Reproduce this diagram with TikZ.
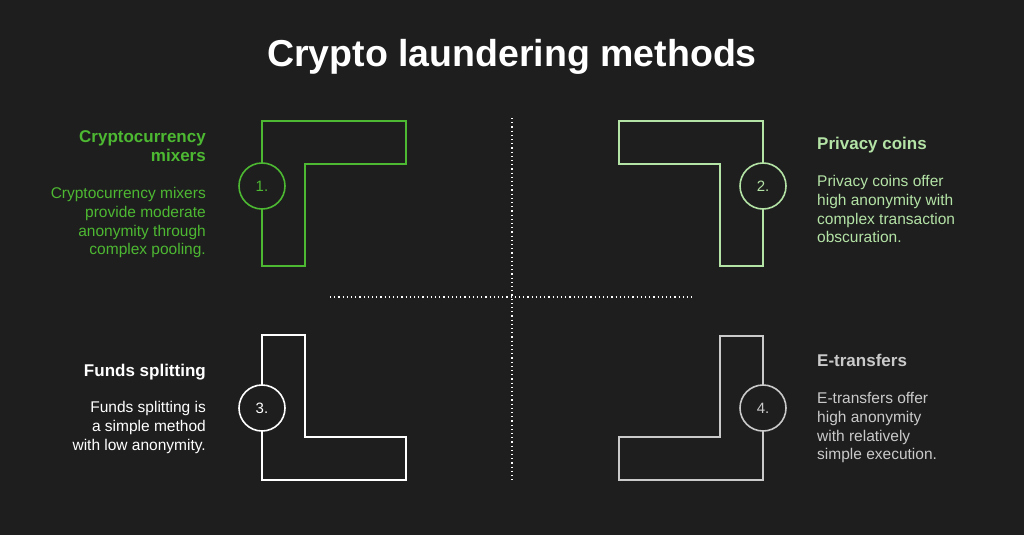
\documentclass[tikz,border=0pt]{standalone}
\usepackage{fontspec}
\setmainfont{Liberation Sans}
\definecolor{bg}{HTML}{1E1E1E}
\definecolor{gA}{HTML}{4DB832}
\definecolor{gB}{HTML}{B4E3A6}
\definecolor{gC}{HTML}{FFFFFF}
\definecolor{gD}{HTML}{CACACA}
\begin{document}
\begin{tikzpicture}[x=1pt,y=-1pt,
  shp/.style={line width=1.6pt},
  num/.style={circle,draw=#1,text=#1,line width=1.6pt,fill=bg,minimum size=46pt,inner sep=0pt,font=\fontsize{15}{15}\selectfont},
  head/.style={font=\bfseries\fontsize{17}{19}\selectfont,inner sep=0pt},
  body/.style={font=\fontsize{15.5}{18.8}\selectfont,inner sep=0pt},
  dots/.style={white,line width=1.2pt,dash pattern=on 1.2pt off 3pt}]
\fill[bg] (0,0) rectangle (1024,535);
\node[white,font=\bfseries\fontsize{37.5}{37.5}\selectfont] (title) at (512,57) {Crypto laundering methods};
\coordinate (vt) at (512,118); \coordinate (vb) at (512,480);
\coordinate (hl) at (330,297); \coordinate (hr) at (692,297);
\draw[dots] (vt) -- (vb);
\draw[dots] (hl) -- (hr);
% shape 1
\draw[gA,shp] (262,121) -- (406,121) -- (406,164) -- (305,164) -- (305,266) -- (262,266) -- cycle;
\node[num=gA] (n1) at (262,186) {1.};
% shape 2
\draw[gB,shp] (619,121) -- (763,121) -- (763,266) -- (720,266) -- (720,164) -- (619,164) -- cycle;
\node[num=gB] (n2) at (763,186) {2.};
% shape 3
\draw[gC,shp] (262,335) -- (305,335) -- (305,437) -- (406,437) -- (406,480) -- (262,480) -- cycle;
\node[num=gC] (n3) at (262,408) {3.};
% shape 4
\draw[gD,shp] (763,336) -- (720,336) -- (720,437) -- (619,437) -- (619,480) -- (763,480) -- cycle;
\node[num=gD] (n4) at (763,408) {4.};
% texts
\node[head,gA,anchor=north east,align=right] (h1) at (206,130) {Cryptocurrency\\mixers};
\node[body,gA,anchor=north east,align=right] (b1) at (206,187) {Cryptocurrency mixers\\provide moderate\\anonymity through\\complex pooling.};
\node[head,gB,anchor=north west,align=left] (h2) at (817,137) {Privacy coins};
\node[body,gB,anchor=north west,align=left] (b2) at (817,175) {Privacy coins offer\\high anonymity with\\complex transaction\\obscuration.};
\node[head,gC,anchor=north east,align=right] (h3) at (206,364) {Funds splitting};
\node[body,gC,anchor=north east,align=right] (b3) at (206,401) {Funds splitting is\\a simple method\\with low anonymity.};
\node[head,gD,anchor=north west,align=left] (h4) at (817,354) {E-transfers};
\node[body,gD,anchor=north west,align=left] (b4) at (817,392) {E-transfers offer\\high anonymity\\with relatively\\simple execution.};
\end{tikzpicture}
\end{document}
